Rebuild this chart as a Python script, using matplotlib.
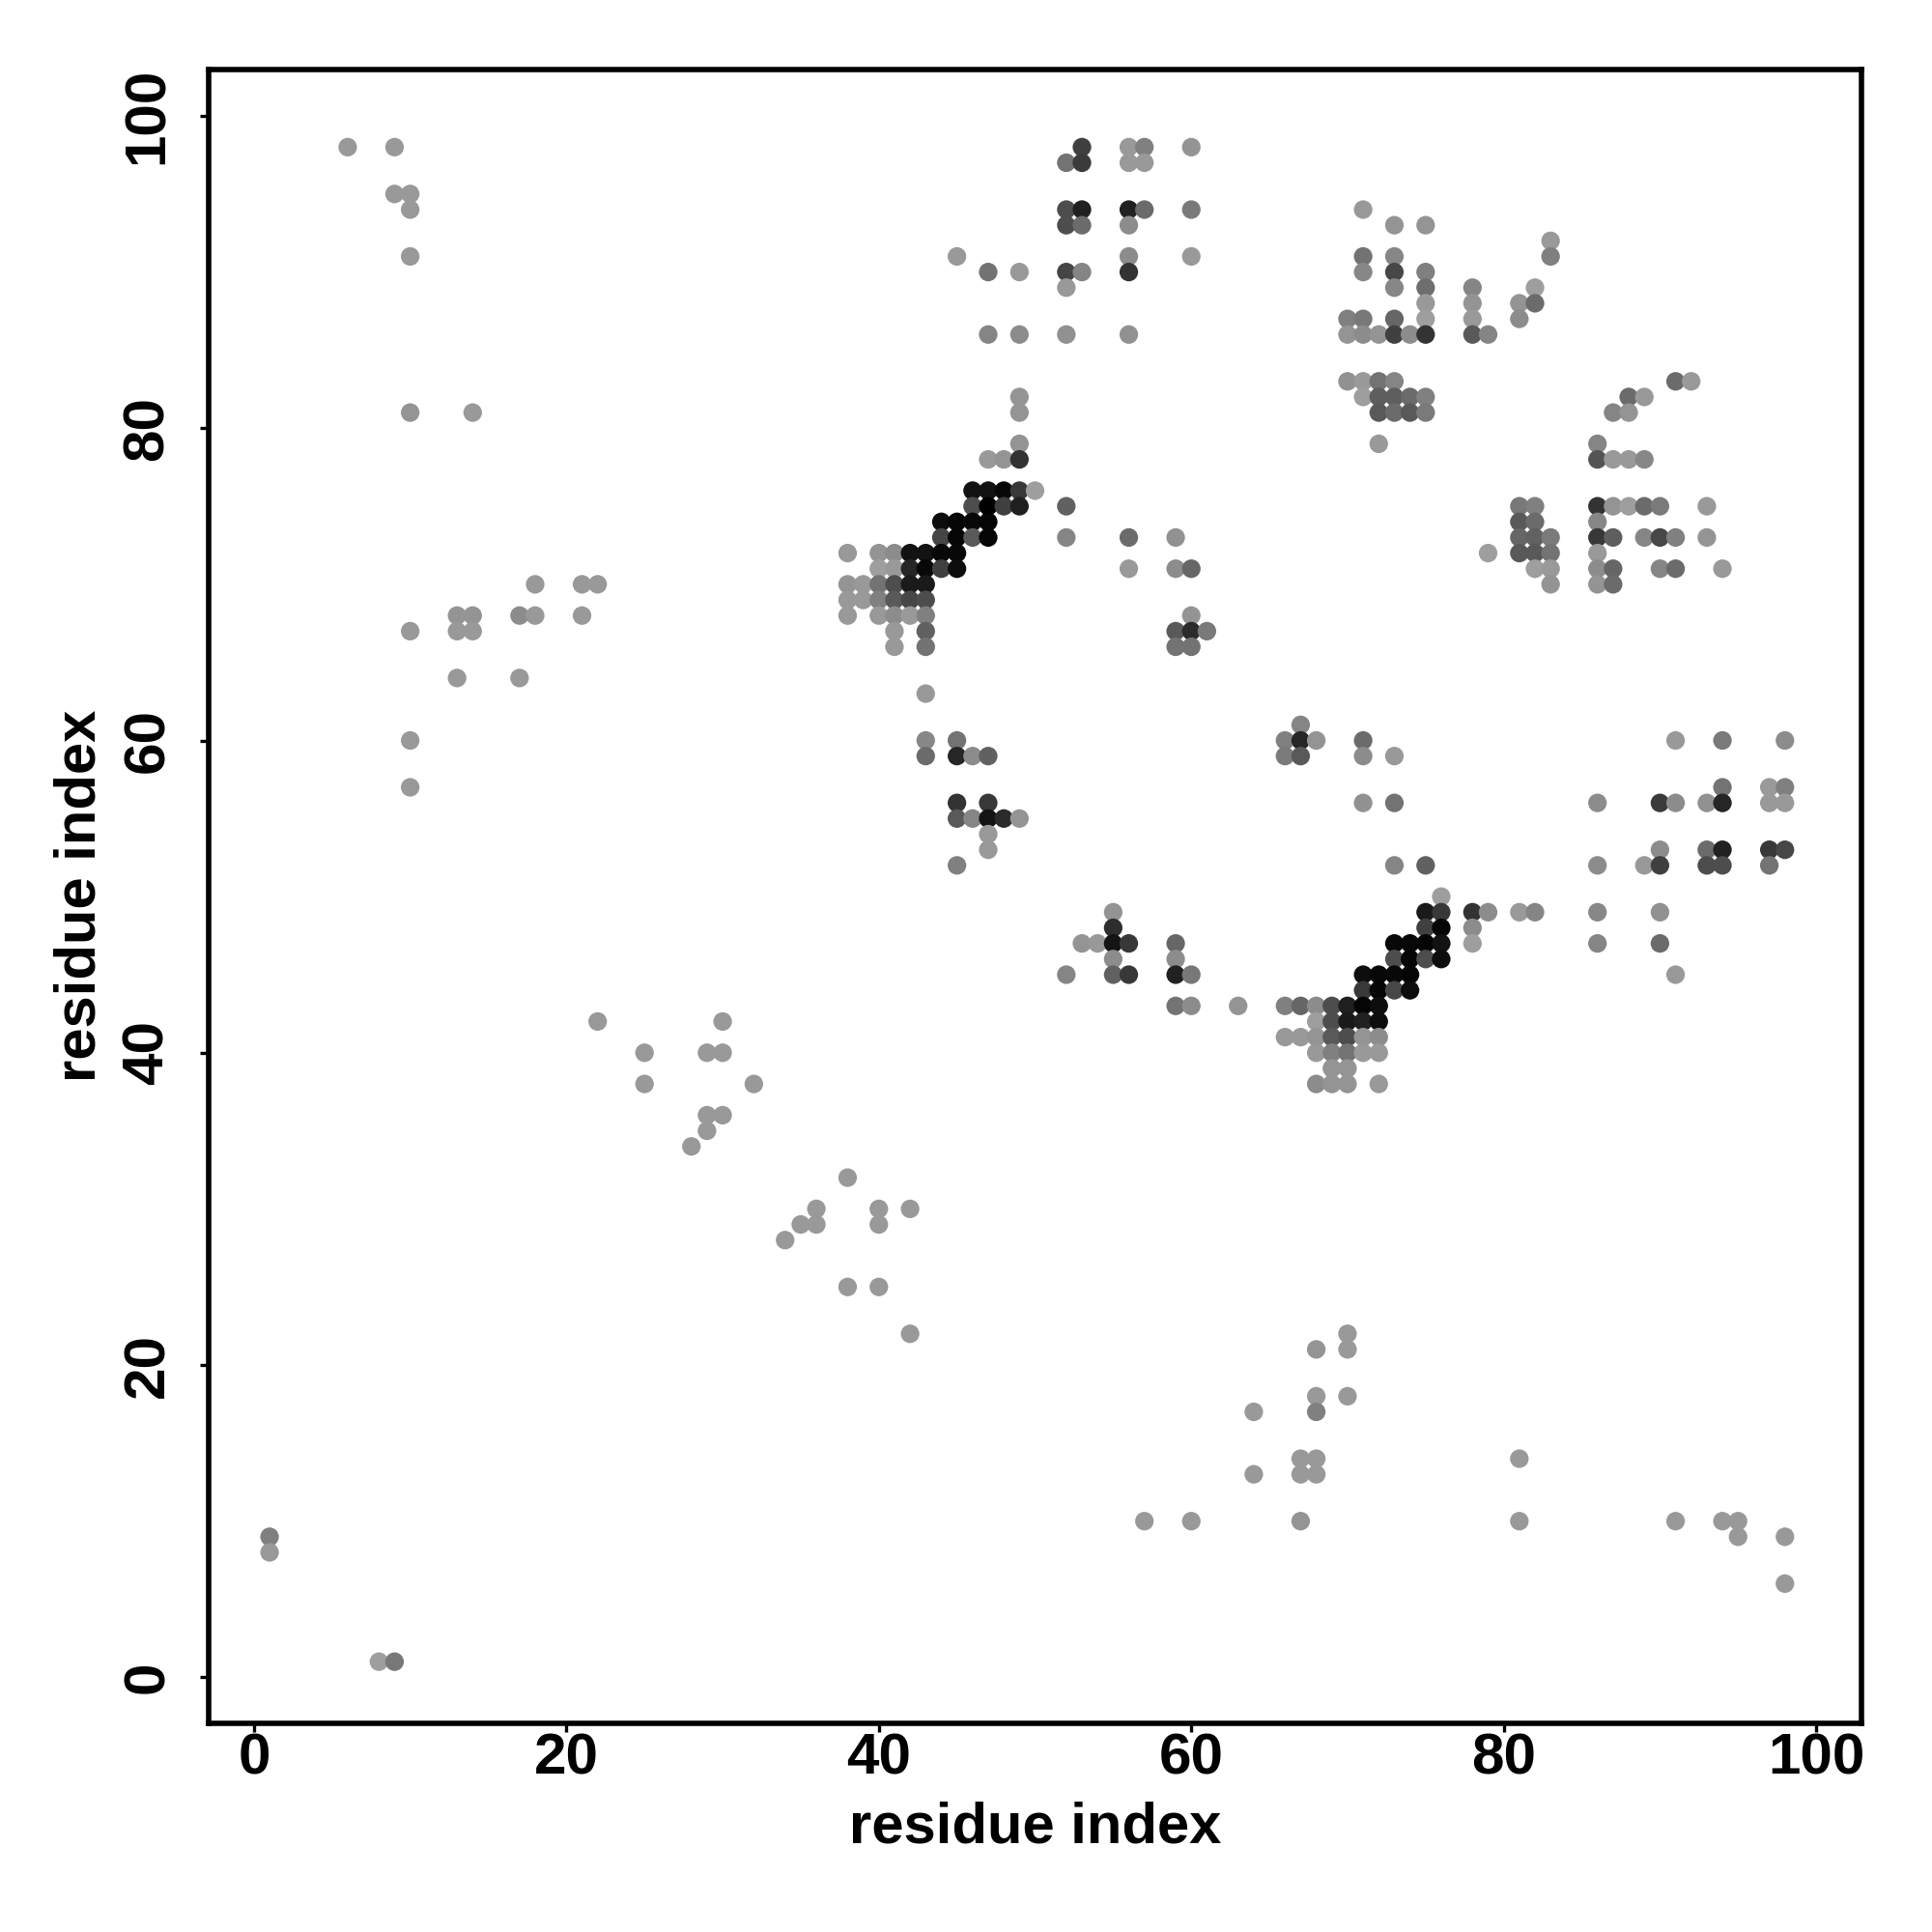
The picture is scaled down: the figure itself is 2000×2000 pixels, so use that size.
import matplotlib
matplotlib.use("Agg")
import matplotlib.pyplot as plt

plt.rcParams['font.family'] = ['Liberation Sans', 'DejaVu Sans']

# Each row: residue j (y), residue i values (x), grey shade of each dot
row_y = [98,97,95,94,93,92,91,90,89,88,87,86,83,82,81,79,78,76,75,74,73,72,71,70,69,68,67,66,64,63,
         61,60,59,57,56,55,54,53,52,50,49,48,47,46,45,44,43,42,41,40,39,38,36,35,34,32,30,29,28,25,22,21,18,17,14,13,10,9,8,6,1]
row_x = [
 [6,9,53,56,57,60],
 [52,53,56,57],
 [9,10],
 [10,52,53,56,57,60,71],
 [52,53,56,73,75],
 [83],
 [10,45,56,60,71,73,83],
 [47,49,52,53,56,71,73,75],
 [52,73,75,78,82],
 [75,78,81,82],
 [70,71,73,75,78,81],
 [47,49,52,56,70,71,72,73,74,75,78,79],
 [70,71,72,73,91,92],
 [49,71,72,73,74,75,88,89],
 [10,14,49,72,73,74,75,87,88],
 [49,72,86],
 [47,48,49,86,87,88,89],
 [46,47,48,49,50],
 [46,47,48,49,52,81,82,86,87,88,89,90,93],
 [44,45,46,47,81,82,86],
 [44,45,46,47,52,56,59,81,82,83,86,87,89,90,91,93],
 [38,40,41,42,43,44,45,79,81,82,83,86],
 [40,41,42,43,44,45,56,59,60,82,83,86,87,90,91,94],
 [18,21,22,38,39,40,41,42,43,83,86,87],
 [38,39,40,41,42,43],
 [13,14,17,18,21,38,40,41,42,43,60],
 [10,13,14,41,43,59,60,61],
 [41,43,59,60],
 [13,17],
 [43],
 [67],
 [10,43,45,66,67,68,71,91,94,98],
 [43,45,46,47,66,67,71,73],
 [10,94,97,98],
 [45,47,71,73,86,90,91,93,94,97,98],
 [45,46,47,48,49],
 [47],
 [47,90,93,94,97,98],
 [45,73,75,86,89,90,93,94,97],
 [76],
 [55,75,76,78,79,81,82,86,90],
 [55,75,76,78],
 [53,54,55,56,59,73,74,75,76,78,86,90],
 [55,59,73,74,75,76],
 [52,55,56,59,60,71,72,73,74,91],
 [71,72,73,74],
 [59,60,63,66,67,68,69,70,71,72],
 [22,30,68,69,70,71,72],
 [66,67,68,69,70,71,72],
 [25,29,30,68,69,70,71,72],
 [69,70],
 [25,32,68,69,70,72],
 [29,30],
 [29],
 [28],
 [38],
 [36,40,42],
 [35,36,40],
 [34],
 [38,40],
 [42,70],
 [68,70],
 [68,70],
 [64,68],
 [67,68,81],
 [64,67,68],
 [57,60,67,81,91,94,95],
 [1,95,98],
 [1],
 [98],
 [8,9],
]
row_grey = [
 [.6,.6,.25,.6,.5,.58],
 [.45,.23,.6,.6],
 [.6,.6],
 [.6,.3,.13,.13,.42,.48,.6],
 [.3,.42,.55,.58,.58],
 [.6],
 [.6,.6,.55,.6,.45,.53,.5],
 [.45,.6,.27,.52,.2,.53,.28,.5],
 [.6,.53,.43,.52,.62],
 [.6,.58,.58,.42],
 [.5,.47,.4,.62,.6,.55],
 [.52,.55,.57,.57,.58,.55,.58,.25,.55,.2,.35,.52],
 [.57,.6,.45,.52,.42,.6],
 [.58,.62,.37,.37,.42,.5,.42,.6],
 [.58,.6,.58,.35,.42,.35,.48,.52,.58],
 [.58,.6,.52],
 [.6,.58,.2,.33,.6,.6,.53],
 [.07,.07,.03,.22,.62],
 [.3,0,.25,.12,.38,.47,.5,.2,.58,.62,.42,.48,.6],
 [.05,.02,.03,.02,.35,.42,.53],
 [.27,.02,.35,.02,.52,.42,.57,.4,.38,.48,.22,.37,.52,.28,.5,.58],
 [.6,.58,.55,.07,.07,.03,.03,.62,.35,.35,.45,.6],
 [.62,.6,.15,.03,.25,.05,.6,.55,.4,.62,.6,.55,.4,.52,.42,.6],
 [.6,.6,.6,.58,.6,.45,.3,.1,.1,.58,.58,.42],
 [.6,.6,.5,.35,.28,.3],
 [.58,.58,.55,.6,.6,.6,.6,.55,.6,.5,.58],
 [.6,.6,.6,.6,.38,.35,.17,.48],
 [.6,.45,.45,.45],
 [.6,.6],
 [.6],
 [.52],
 [.6,.53,.45,.5,.15,.58,.42,.6,.48,.55],
 [.42,.15,.55,.38,.48,.35,.55,.6],
 [.6,.45,.6,.5],
 [.2,.22,.57,.45,.55,.23,.55,.57,.15,.6,.6],
 [.35,.52,.08,.17,.58],
 [.6],
 [.6,.55,.42,.13,.22,.28],
 [.5,.52,.38,.55,.6,.25,.3,.3,.45],
 [.62],
 [.58,.1,.22,.2,.55,.6,.52,.53,.57],
 [.18,.25,.02,.55],
 [.58,.6,.08,.22,.4,.03,.03,.02,.07,.62,.52,.42],
 [.55,.55,.3,.02,.3,.05],
 [.52,.38,.22,.13,.47,.05,.03,.03,.02,.6],
 [.22,.02,.28,.05],
 [.45,.55,.58,.5,.4,.55,.3,.12,.02,.05],
 [.6,.6,.62,.3,.1,.13,.05],
 [.6,.6,.58,.35,.3,.58,.55],
 [.6,.6,.6,.6,.5,.45,.6,.6],
 [.58,.58],
 [.6,.6,.55,.58,.58,.6],
 [.6,.6],
 [.6],
 [.6],
 [.6],
 [.6,.6,.6],
 [.6,.6,.6],
 [.6],
 [.6,.6],
 [.6,.6],
 [.58,.6],
 [.6,.6],
 [.6,.5],
 [.6,.6,.6],
 [.6,.6,.6],
 [.6,.6,.58,.6,.6,.6,.6],
 [.5,.6,.6],
 [.6],
 [.6],
 [.62,.47],
]
tick_values = [0, 20, 40, 60, 80, 100]
axis_title = "residue index"

x_vals, y_vals, greys = [], [], []
for yy, xs, gs in zip(row_y, row_x, row_grey):
    for xx, g in zip(xs, gs):
        x_vals.append(xx)
        y_vals.append(yy)
        greys.append(str(g))

fig = plt.figure(figsize=(10, 10), dpi=200, facecolor="white")
ax = fig.add_axes([216/2000, 1-1784/2000, (1927-216)/2000, (1784-71.5)/2000])
ax.scatter(x_vals, y_vals, s=48, c=greys, linewidths=0, zorder=3)
ax.set_xlim(-2.9, 102.9)
ax.set_ylim(-2.95, 103.0)
for s in ax.spines.values():
    s.set_linewidth(2.0)
ax.set_xticks(tick_values)
ax.set_yticks(tick_values)
ax.tick_params(length=3.4, width=1.2, labelsize=21.7)
ax.tick_params(axis="x", pad=-0.1)
ax.tick_params(axis="y", pad=9.2)
for t in ax.get_xticklabels():
    t.set_fontweight("bold")
for t in ax.get_yticklabels():
    t.set_fontweight("bold")
    t.set_rotation(90)
    t.set_va("center")
ax.set_xlabel(axis_title, fontsize=21.5, fontweight="bold", labelpad=6)
ax.set_ylabel(axis_title, fontsize=21.5, fontweight="bold", labelpad=5.4)
fig.savefig("out.png", dpi=200, facecolor="white")
